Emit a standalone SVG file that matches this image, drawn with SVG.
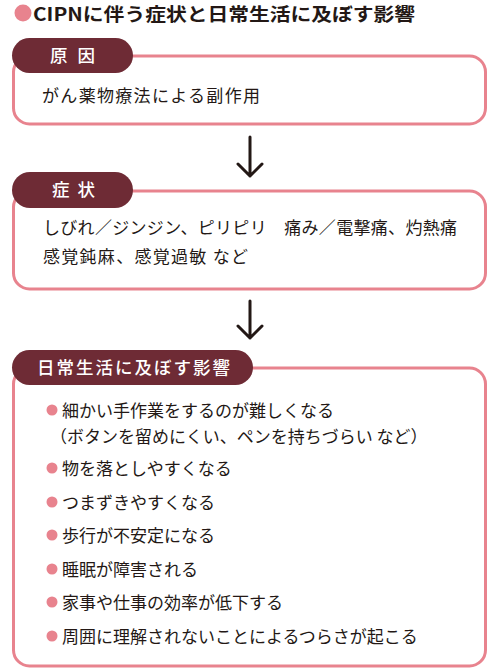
<svg xmlns="http://www.w3.org/2000/svg" width="500" height="670" viewBox="0 0 500 670">
<style>
text{font-family:"Noto Sans CJK JP","Noto Sans",sans-serif;fill:#231815}
.box{fill:#fff;stroke:#e8838e;stroke-width:3}
.tab{fill:#6e2b35}
.tabt{fill:#fff;font-size:17.5px;font-weight:500}
.body{font-size:17px}
.dot{fill:#e8838e}
.arrow{fill:none;stroke:#231815;stroke-width:3;stroke-linecap:round;stroke-linejoin:round}
</style>
<rect width="500" height="670" fill="#fff"/>
<g id="title">
<circle class="dot" cx="23" cy="13" r="8.5"/>
<text x="33" y="21" font-size="18" font-weight="700" textLength="382" lengthAdjust="spacingAndGlyphs">CIPNに伴う症状と日常生活に及ぼす影響</text>
</g>
<g id="connectors">
<path class="arrow" d="M250 137V176M238 164L250 176L262 164"/>
<path class="arrow" d="M250 301V338M238 326L250 338L262 326"/>
</g>
<g id="cause">
<rect class="box" x="13.5" y="56" width="472" height="68" rx="16"/>
<rect class="tab" x="12" y="38" width="121" height="35" rx="17.5"/>
<text class="tabt" x="50" y="62" textLength="45">原 因</text>
<text class="body" x="42" y="102" textLength="218">がん薬物療法による副作用</text>
</g>
<g id="symptoms">
<rect class="box" x="13.5" y="191" width="472" height="98" rx="16"/>
<rect class="tab" x="12" y="172" width="121" height="36" rx="18"/>
<text class="tabt" x="52" y="196" textLength="43">症 状</text>
<text class="body" x="43" y="234" textLength="414">しびれ／ジンジン、ピリピリ　痛み／電撃痛、灼熱痛</text>
<text class="body" x="43" y="263" textLength="205">感覚鈍麻、感覚過敏 など</text>
</g>
<g id="effects">
<rect class="box" x="13.5" y="368" width="472" height="298" rx="16"/>
<rect class="tab" x="12" y="350" width="241" height="35" rx="17.5"/>
<text class="tabt" x="37" y="374" textLength="193">日常生活に及ぼす影響</text>
<circle class="dot" cx="52" cy="410" r="5.5"/>
<text class="body" x="62" y="417">細かい手作業をするのが難しくなる</text>
<text class="body" x="50" y="443">（ボタンを留めにくい、ペンを持ちづらい など）</text>
<circle class="dot" cx="52" cy="468" r="5.5"/>
<text class="body" x="62" y="475">物を落としやすくなる</text>
<circle class="dot" cx="52" cy="502" r="5.5"/>
<text class="body" x="62" y="509">つまずきやすくなる</text>
<circle class="dot" cx="52" cy="535" r="5.5"/>
<text class="body" x="62" y="542">歩行が不安定になる</text>
<circle class="dot" cx="52" cy="569" r="5.5"/>
<text class="body" x="62" y="576">睡眠が障害される</text>
<circle class="dot" cx="52" cy="602" r="5.5"/>
<text class="body" x="62" y="609">家事や仕事の効率が低下する</text>
<circle class="dot" cx="52" cy="636" r="5.5"/>
<text class="body" x="62" y="643">周囲に理解されないことによるつらさが起こる</text>
</g>
</svg>
